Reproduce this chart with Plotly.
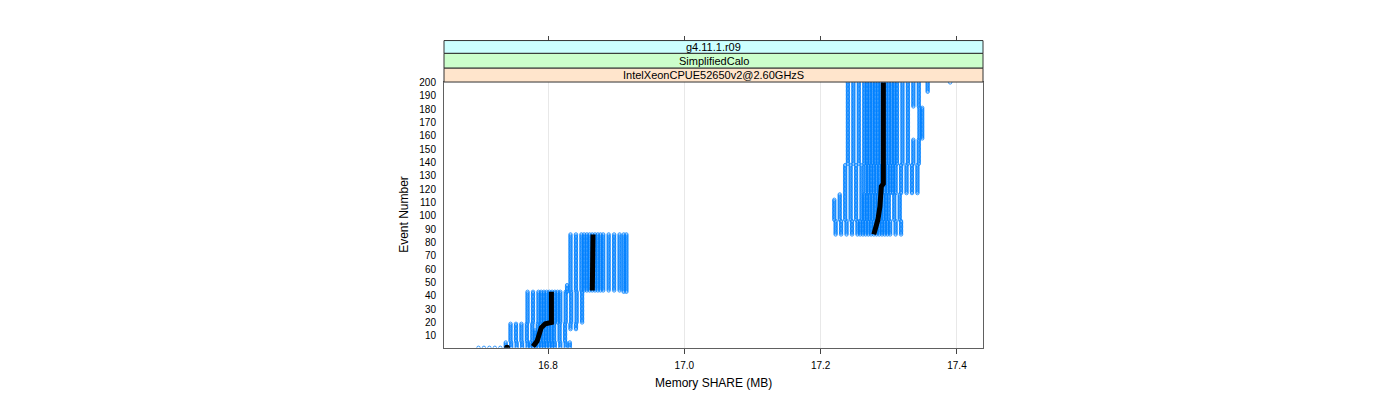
import plotly.graph_objects as go

# x ticks / y ticks
x_ticks = [16.8, 17.0, 17.2, 17.4]
y_ticks = list(range(10, 201, 10))

# memory values (MB) seen in each block of events
cols_ev1 = [16.698, 16.706, 16.714, 16.722, 16.730]
cols_ev1_5 = [16.738, 16.746, 16.754, 16.762, 16.770, 16.774, 16.778, 16.782, 16.786,
              16.790, 16.794, 16.798, 16.802, 16.806, 16.810, 16.818, 16.826, 16.832]
cols_ev6_14 = [16.745, 16.753, 16.761, 16.769, 16.777, 16.781, 16.785, 16.789, 16.793,
               16.797, 16.801, 16.805, 16.809, 16.817, 16.825]
cols_ev15_19 = [16.745, 16.753, 16.761, 16.769, 16.777, 16.785, 16.789, 16.793, 16.797,
                16.801, 16.805, 16.809, 16.817, 16.825, 16.833, 16.841]
cols_ev20_43 = [16.770, 16.778, 16.786, 16.790, 16.794, 16.798, 16.802, 16.806, 16.810,
                16.814, 16.818, 16.826, 16.834, 16.842, 16.850]
cols_ev43_48 = [16.828]
cols_ev44_86 = [16.833, 16.841, 16.849, 16.853, 16.857, 16.861, 16.865, 16.869, 16.873,
                16.877, 16.881, 16.889, 16.897, 16.905]
cols_ev43_86 = [16.911, 16.915]
cols_ev86_96 = [17.222, 17.230, 17.238, 17.246, 17.254, 17.258, 17.262, 17.266, 17.270,
                17.274, 17.278, 17.282, 17.286, 17.290, 17.294, 17.298, 17.302, 17.310, 17.318]
cols_ev97_112 = [17.220]
cols_ev97_116 = [17.228, 17.236, 17.244, 17.252, 17.260, 17.264, 17.268, 17.272, 17.276,
                 17.280, 17.284, 17.288, 17.292, 17.296, 17.300, 17.308, 17.316]
cols_ev117_138 = [17.236, 17.244, 17.252, 17.260, 17.266, 17.270, 17.274, 17.278, 17.282,
                  17.286, 17.290, 17.294, 17.298, 17.302, 17.306, 17.310, 17.318, 17.326,
                  17.334, 17.342]
cols_ev139_157 = [17.240, 17.248, 17.256, 17.264, 17.268, 17.272, 17.276, 17.280, 17.284,
                  17.288, 17.292, 17.296, 17.300, 17.304, 17.308, 17.312, 17.320, 17.328,
                  17.336, 17.344]
cols_ev158_181 = [17.240, 17.248, 17.256, 17.264, 17.268, 17.272, 17.276, 17.280, 17.284,
                  17.288, 17.292, 17.296, 17.300, 17.304, 17.308, 17.312, 17.320, 17.328,
                  17.345, 17.349]
cols_ev182_200 = [17.240, 17.248, 17.256, 17.264, 17.268, 17.272, 17.276, 17.280, 17.284,
                  17.288, 17.292, 17.296, 17.300, 17.304, 17.308, 17.312, 17.320, 17.328,
                  17.336, 17.344]
cols_ev193_200 = [17.357]
cols_ev200 = [17.390]

# (first event, last event, memory values)
blocks = [
    (1, 1, cols_ev1), (1, 5, cols_ev1_5), (6, 14, cols_ev6_14), (15, 19, cols_ev15_19),
    (20, 43, cols_ev20_43), (43, 48, cols_ev43_48), (44, 86, cols_ev44_86),
    (43, 86, cols_ev43_86), (86, 96, cols_ev86_96), (97, 112, cols_ev97_112),
    (97, 116, cols_ev97_116), (117, 138, cols_ev117_138), (139, 157, cols_ev139_157),
    (158, 181, cols_ev158_181), (182, 200, cols_ev182_200), (193, 200, cols_ev193_200),
    (200, 200, cols_ev200),
]

# median per event
med_first_ev = [1]
med_first_x = [16.740]
med_ev = [2, 6, 11, 16, 19, 20, 43, None, 44, 46, 47, 86, None,
          86, 97, 107, 122, 124, 200]
med_x = [16.778, 16.784, 16.787, 16.790, 16.796, 16.805, 16.805, None, 16.865, 16.865,
         16.866, 16.866, None, 17.278, 17.284, 17.287, 17.289, 17.292, 17.292]

pts_x, pts_y = [], []
for first, last, cols in blocks:
    for ev in range(first, last + 1):
        for v in cols:
            pts_x.append(v)
            pts_y.append(ev)

fig = go.Figure()
fig.add_trace(go.Scatter(
    x=pts_x, y=pts_y, mode="markers",
    marker=dict(symbol="circle-open", size=3.4, color="#0080ff", line=dict(width=0.8)),
    hoverinfo="skip",
))
fig.add_trace(go.Scatter(
    x=med_x, y=med_ev, mode="lines", line=dict(color="black", width=5),
    connectgaps=False, hoverinfo="skip",
))
fig.add_trace(go.Scatter(
    x=med_first_x, y=med_first_ev, mode="markers",
    marker=dict(color="black", size=6), hoverinfo="skip",
))

W, H = 1400, 400
left, right, top, bottom = 444, 983, 78, 347
x_range = [16.6474, 17.4382]
font = "Liberation Sans, Arial, Helvetica, sans-serif"

fig.update_layout(
    width=W, height=H, margin=dict(l=0, r=0, t=0, b=0),
    paper_bgcolor="white", plot_bgcolor="white", showlegend=False,
    font=dict(family=font, size=10, color="black"),
    xaxis=dict(
        domain=[left / W, right / W], range=x_range, tickvals=x_ticks,
        ticktext=["16.8", "17.0", "17.2", "17.4"],
        ticks="outside", ticklen=5, tickcolor="#444", ticklabelstandoff=3,
        showgrid=True, gridcolor="#e8e8e8", zeroline=False,
        showline=True, linecolor="#606060", mirror=True,
    ),
    xaxis2=dict(
        overlaying="x", anchor="free", position=(H - 36) / H, side="top",
        range=x_range, tickvals=x_ticks, showticklabels=False,
        ticks="outside", ticklen=5, tickcolor="#444",
        showgrid=False, zeroline=False, showline=False,
    ),
    yaxis=dict(
        domain=[(H - bottom) / H, (H - top) / H], range=[1.1, 200.3],
        tickvals=y_ticks, ticks="", ticklabelstandoff=5,
        showgrid=False, zeroline=False,
        showline=True, linecolor="#606060", mirror=True,
    ),
)
# invisible trace so the top tick axis is drawn
fig.add_trace(go.Scatter(x=[None], y=[None], xaxis="x2", showlegend=False))

# strips
strips = [(36, 49, "#ccffff", "g4.11.1.r09"),
          (49, 64, "#ccffcc", "SimplifiedCalo"),
          (64, 78, "#ffe5cc", "IntelXeonCPUE52650v2@2.60GHzS")]
for y0, y1, col, label in strips:
    fig.add_shape(type="rect", xref="paper", yref="paper",
                  x0=left / W, x1=right / W, y0=(H - y1) / H, y1=(H - y0) / H,
                  fillcolor=col, line=dict(color="#333", width=1), layer="above")
    fig.add_annotation(text=label, xref="paper", yref="paper",
                       x=(left + right) / 2 / W, y=(H - (y0 + y1) / 2) / H,
                       showarrow=False, font=dict(size=11), yanchor="middle")

fig.add_annotation(text="Memory SHARE (MB)", xref="paper", yref="paper",
                   x=(left + right) / 2 / W, y=(H - 383) / H, showarrow=False,
                   font=dict(size=12), yanchor="middle")
fig.add_annotation(text="Event Number", xref="paper", yref="paper",
                   x=404 / W, y=(H - (top + bottom) / 2) / H, showarrow=False,
                   textangle=-90, font=dict(size=12), xanchor="center", yanchor="middle")

fig.write_html("out.html", config={"displayModeBar": False})

# drop the browser's default page margin so the figure sits at 0,0
with open("out.html", encoding="utf-8") as f:
    page = f.read()
page = page.replace("<head>", "<head><style>body{margin:0;}</style>", 1)
with open("out.html", "w", encoding="utf-8") as f:
    f.write(page)
